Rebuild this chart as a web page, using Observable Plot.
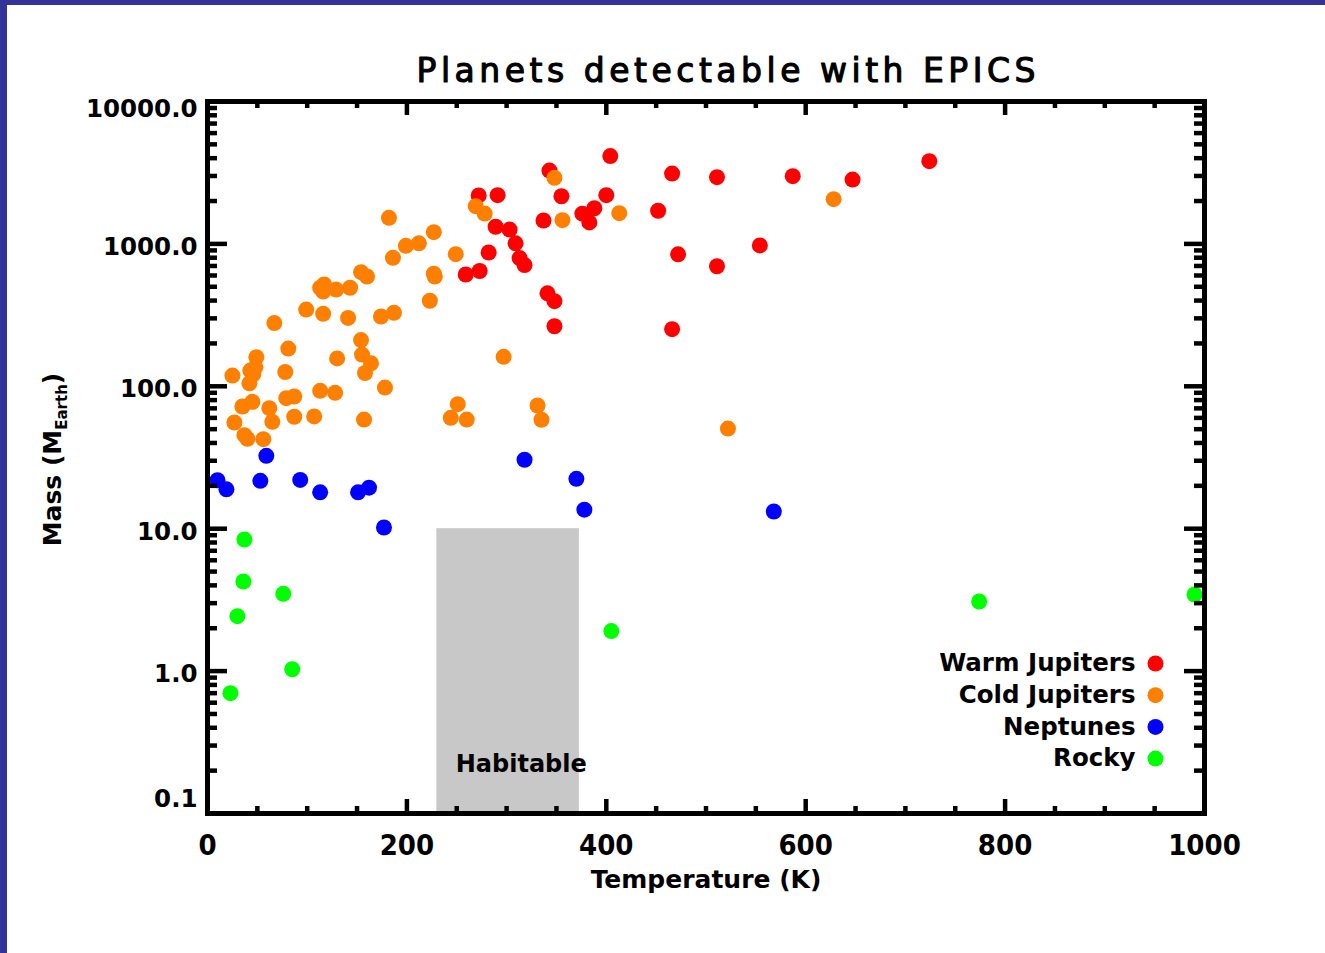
<!DOCTYPE html>
<html><head><meta charset="utf-8">
<script src="https://cdn.jsdelivr.net/npm/d3@7"></script>
<script src="https://cdn.jsdelivr.net/npm/@observablehq/plot@0.6"></script>
<style>
html,body{margin:0;padding:0;background:#fff;}
#wrap{position:relative;width:1325px;height:953px;overflow:hidden;background:#fff;}
#wrap svg{position:absolute;left:0;top:0;}
.band-top{position:absolute;left:0;top:0;width:1325px;height:5px;background:#333399;}
.band-left{position:absolute;left:0;top:0;width:7px;height:953px;background:#333399;}
</style></head><body>
<div id="wrap"><div class="band-top"></div><div class="band-left"></div></div>
<script>
// ---- data (temperature K, mass Earth masses) ----
const warmT = [404, 343, 355, 400, 272, 291, 289, 303, 309, 282, 313, 318, 259, 273, 337, 376, 388, 383, 341, 348, 348, 466, 511, 587, 647, 724, 452, 472, 511, 554, 466];
const warmM = [4140, 3275, 2160, 2200, 2190, 2200, 1320, 1260, 1010, 870, 795, 710, 610, 645, 1460, 1630, 1780, 1415, 450, 396, 264, 3120, 2940, 2990, 2830, 3810, 1710, 845, 697, 975, 252];

const coldT = [182, 199, 212, 186, 154, 160, 113, 117, 116, 129, 143, 99, 116, 141, 67, 174, 187, 154, 81, 49, 130, 155, 164, 43, 48, 46, 25, 78, 42, 158, 113, 128, 178, 79, 87, 45, 35, 62, 65, 87, 107, 157, 27, 37, 40, 56, 348, 413, 269, 278, 356, 227, 249, 227, 228, 223, 297, 251, 244, 260, 331, 335, 628, 522];
const coldM = [1525, 970, 1010, 798, 633, 590, 492, 519, 463, 478, 492, 346, 323, 302, 278, 309, 328, 211, 184, 160, 157, 167, 145, 129, 136, 122, 119, 126, 105, 124, 93, 90, 98, 82.5, 84.8, 77.8, 72.1, 70.2, 56.3, 61.1, 61.4, 58.4, 55.7, 45.4, 42.8, 42.5, 2910, 1644, 1840, 1634, 1467, 1208, 847, 617, 590, 399, 161, 74.9, 60.1, 58.4, 73.3, 58.2, 2060, 50.5];

const neptT = [59, 10, 19, 53, 93, 113, 151, 162, 177, 318, 370, 378, 568];
const neptM = [32.5, 21.9, 18.9, 21.7, 22.0, 18.0, 18.0, 19.4, 10.2, 30.5, 22.4, 13.6, 13.2];

const rockyT = [37, 36, 76, 30, 85, 23, 405, 774, 990];
const rockyM = [8.4, 4.26, 3.49, 2.43, 1.03, 0.70, 1.91, 3.08, 3.45];

const categories = ["Warm Jupiters", "Cold Jupiters", "Neptunes", "Rocky"];
const categoryColors = ["#ff0000", "#ff8000", "#0000ff", "#00ff00"];

const habitableT = [230, 373];
const habitableM = [0.1, 10];
const habitableLabel = {text: "Habitable", t: 249, m: 0.22};

const xMajor = [0, 200, 400, 600, 800, 1000];
const xMinor = d3.range(0, 1001, 50).filter(v => v % 200 !== 0);
const yMajor = [0.1, 1, 10, 100, 1000, 10000];
const yMinor = [0.1, 1, 10, 100, 1000].flatMap(d => d3.range(2, 10).map(k => +(d * k).toPrecision(3)));

const title = "Planets detectable with EPICS";
const xTitle = "Temperature (K)";
const yTitle = "Mass (M_Earth)";

// ---- build ----
const series = [[warmT, warmM], [coldT, coldM], [neptT, neptM], [rockyT, rockyM]];
const planets = series.flatMap(([T, M], i) => T.map((t, j) => ({t, m: M[j], type: categories[i]})));

const W = 1325, H = 953, mL = 207, mR = 121, mT = 101, mB = 140;
const plotW = W - mL - mR, plotH = H - mT - mB;
const F = "'DejaVu Sans',sans-serif";
const FC = "'DejaVu Sans Condensed','DejaVu Sans',sans-serif";
const tk = {stroke: "black", strokeWidth: 4.5};

const legendMarks = categories.flatMap((c, i) => [
  Plot.dot([c], {frameAnchor: "bottom-right", dx: -49, dy: -150 + i * 31.7, r: 8, fill: categoryColors[i]}),
  Plot.text([c], {frameAnchor: "bottom-right", dx: -69, dy: -150 + i * 31.7, text: d => d, textAnchor: "end", lineAnchor: "middle", fontSize: 24.5, fontWeight: "bold", fill: "black"})
]);

const chart = Plot.plot({
  width: W, height: H,
  marginLeft: mL, marginRight: mR, marginTop: mT, marginBottom: mB,
  style: {background: "transparent", fontFamily: F, overflow: "visible"},
  x: {domain: [0, 1000], axis: null},
  y: {type: "log", domain: [0.1, 10000], axis: null},
  marks: [
    Plot.rect([0], {x1: () => habitableT[0], x2: () => habitableT[1], y1: () => habitableM[0], y2: () => habitableM[1], fill: "#c8c8c8"}),
    Plot.text([habitableLabel], {x: "t", y: "m", text: "text", textAnchor: "start", lineAnchor: "middle", fontSize: 24, fontWeight: "bold", fill: "black"}),
    ...categories.map((c, i) => Plot.dot(planets.filter(p => p.type === c), {x: "t", y: "m", r: 8, fill: categoryColors[i]})),
    // ticks, inward on all four sides
    Plot.ruleX(xMajor, {...tk, insetTop: plotH - 14}),
    Plot.ruleX(xMajor, {...tk, insetBottom: plotH - 14}),
    Plot.ruleX(xMinor, {...tk, insetTop: plotH - 7}),
    Plot.ruleX(xMinor, {...tk, insetBottom: plotH - 7}),
    Plot.ruleY(yMajor, {...tk, insetRight: plotW - 20}),
    Plot.ruleY(yMajor, {...tk, insetLeft: plotW - 20}),
    Plot.ruleY(yMinor, {...tk, insetRight: plotW - 10}),
    Plot.ruleY(yMinor, {...tk, insetLeft: plotW - 10}),
    Plot.frame({stroke: "black", strokeWidth: 5}),
    // tick labels
    Plot.text(xMajor, {x: d => d, frameAnchor: "bottom", dy: 32, text: d => String(d), lineAnchor: "middle", fontSize: 29, fontWeight: "bold", fontFamily: FC, fill: "black"}),
    Plot.text(yMajor.filter(d => d > 0.1 && d < 10000), {y: d => d, frameAnchor: "left", dx: -10, dy: 3, text: d => d.toFixed(1), textAnchor: "end", lineAnchor: "middle", fontSize: 24.5, fontWeight: "bold", fill: "black"}),
    Plot.text(yMajor.filter(d => d === 10000), {y: d => d, frameAnchor: "left", dx: -10, dy: 8, text: d => d.toFixed(1), textAnchor: "end", lineAnchor: "middle", fontSize: 24.5, fontWeight: "bold", fill: "black"}),
    Plot.text(yMajor.filter(d => d === 0.1), {y: d => d, frameAnchor: "left", dx: -10, dy: -14, text: d => d.toFixed(1), textAnchor: "end", lineAnchor: "middle", fontSize: 24.5, fontWeight: "bold", fill: "black"}),
    // titles
    Plot.text([title], {frameAnchor: "top", dx: 20, dy: -30, text: d => d, lineAnchor: "middle", fontSize: 33, fill: "black", stroke: "black", strokeWidth: 1.1}),
    Plot.text([xTitle], {frameAnchor: "bottom", dy: 66, text: d => d, lineAnchor: "middle", fontSize: 25, fontWeight: "bold", fill: "black"}),
    Plot.text([yTitle], {frameAnchor: "left", dx: -155, dy: 2, rotate: -90, text: d => d, textAnchor: "middle", lineAnchor: "middle", fontSize: 25, fontWeight: "bold", fill: "black"}),
    ...legendMarks
  ]
});

document.getElementById("wrap").appendChild(chart);
const svg = d3.select(chart);
svg.selectAll("text").filter(function() { return this.textContent === title; })
  .attr("textLength", 619).attr("lengthAdjust", "spacing");
svg.selectAll("text").filter(function() { return this.textContent === yTitle; })
  .each(function() {
    const el = d3.select(this);
    el.attr("text-anchor", "middle");
    el.text("");
    el.append("tspan").text("Mass (M");
    el.append("tspan").attr("dy", 6).attr("font-size", 15).text("Earth");
    el.append("tspan").attr("dy", -6).text(")");
  });
</script>
</body></html>
